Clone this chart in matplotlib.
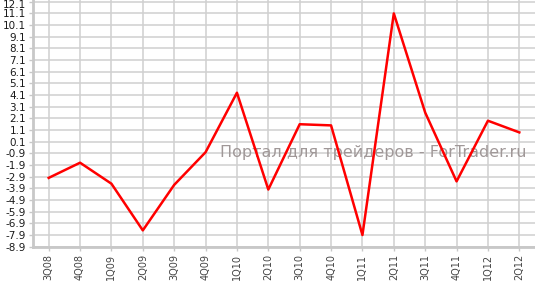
import matplotlib
matplotlib.use("Agg")
import matplotlib.pyplot as plt
from matplotlib.transforms import ScaledTranslation
import numpy as np

quarters = ["3Q08", "4Q08", "1Q09", "2Q09", "3Q09", "4Q09", "1Q10", "2Q10",
            "3Q10", "4Q10", "1Q11", "2Q11", "3Q11", "4Q11", "1Q12", "2Q12"]
values = [-3.0, -1.7, -3.5, -7.5, -3.6, -0.8, 4.3, -4.0,
          1.6, 1.5, -7.9, 11.1, 2.6, -3.3, 1.9, 0.9]
y_ticks = [round(-8.9 + i, 1) for i in range(22)]

fig = plt.figure(figsize=(5.35, 2.84), dpi=100)
ax = fig.add_axes([33 / 535, 37.3 / 284, 502 / 535, 246.7 / 284])

x = np.arange(len(quarters))
ax.plot(x, values, color="#ff0000", linewidth=1.8, zorder=3)

ax.set_xlim(-0.5, len(quarters) - 0.5)
ax.set_ylim(-8.9, 12.25)
ax.set_xticks(x)
ax.set_xticklabels(quarters, rotation=90, fontsize=7, color="#444444")
ax.set_yticks(y_ticks)
ax.set_yticklabels([f"{v:.1f}" for v in y_ticks], fontsize=7.5, color="#1a1a1a")

ax.grid(True, color="#d0d0d0", linewidth=1.1)
ax.set_axisbelow(True)
for side in ["top", "right"]:
    ax.spines[side].set_visible(False)
for side in ["left", "bottom"]:
    ax.spines[side].set_color("#c8c8c8")
    ax.spines[side].set_linewidth(2)
ax.tick_params(axis="both", color="#c8c8c8", length=3, width=1, pad=2)

# top label is pushed down a little so it stays inside the picture
top = ax.yaxis.get_major_ticks()[-1].label1
top.set_transform(top.get_transform() + ScaledTranslation(0, -2.5 / 100, fig.dpi_scale_trans))

ax.text(0.678, 0.382, "Портал для трейдеров - ForTrader.ru", transform=ax.transAxes,
        ha="center", va="center", fontsize=11.5, color="#a09898", zorder=2)

fig.savefig("out.png", dpi=100)
